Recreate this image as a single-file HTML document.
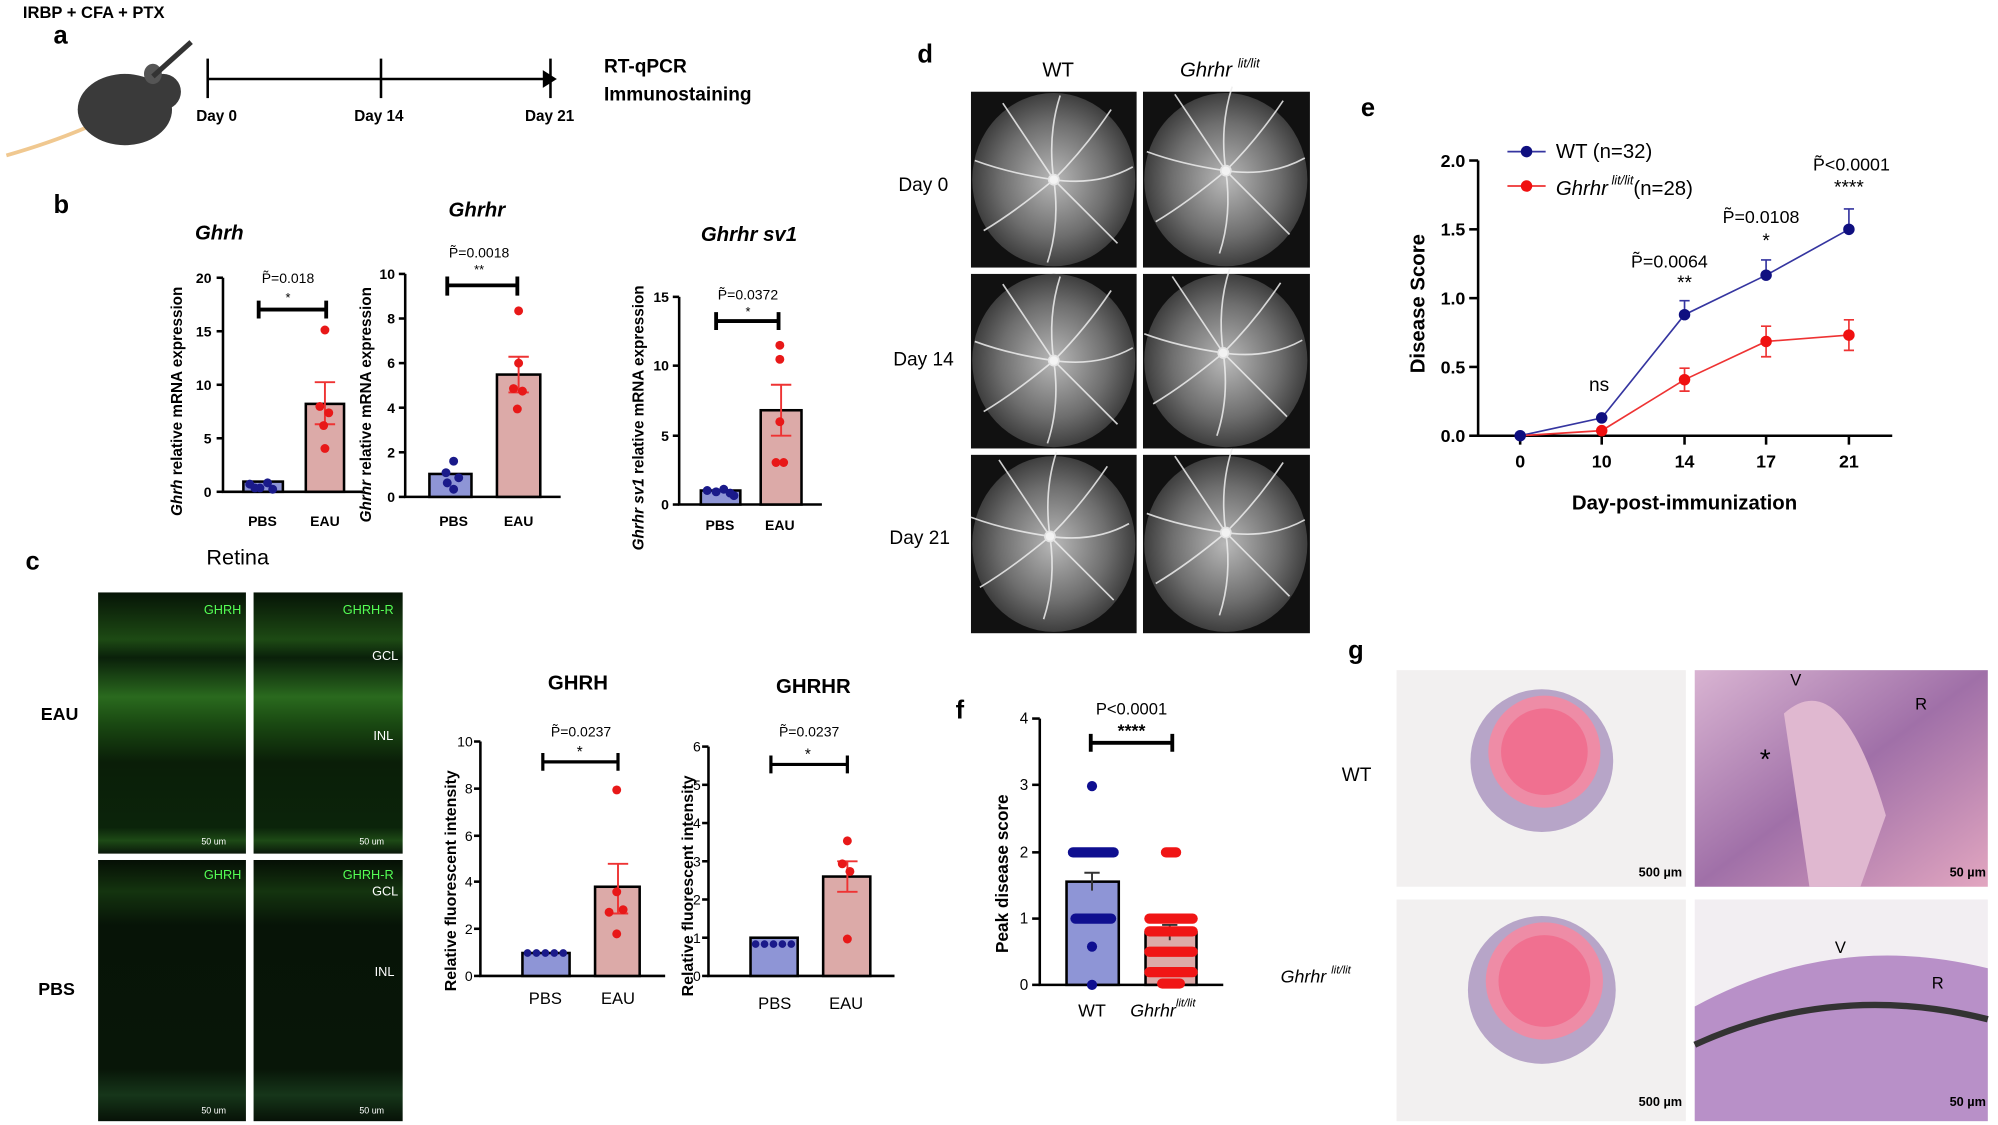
<!DOCTYPE html>
<html><head><meta charset="utf-8"><style>
html,body{margin:0;padding:0;background:#fff;}
svg{display:block;}
text{font-family:"Liberation Sans",sans-serif;}
.b{font-weight:bold;}
</style></head><body>
<svg width="1998" height="1125" viewBox="0 0 1568 883" preserveAspectRatio="none" xmlns="http://www.w3.org/2000/svg">
<defs>
<radialGradient id="fund" cx="50%" cy="50%" r="55%"><stop offset="0" stop-color="#b8b8b8"/><stop offset="0.6" stop-color="#6e6e6e"/><stop offset="1" stop-color="#303030"/></radialGradient>
<g id="ves" stroke="#eee" stroke-width="1.3" fill="none" opacity="0.85">
<path d="M0 0 Q-20 -30 -40 -60"/><path d="M0 0 Q25 -25 45 -55"/><path d="M0 0 Q35 5 62 -10"/><path d="M0 0 Q30 30 50 50"/><path d="M0 0 Q5 35 -5 65"/><path d="M0 0 Q-30 25 -55 40"/><path d="M0 0 Q-35 -5 -62 -15"/><path d="M0 0 Q-5 -35 5 -66"/>
<circle r="4" fill="#fff"/></g>
<linearGradient id="grn" x1="0" y1="0" x2="0" y2="1">
<stop offset="0" stop-color="#061406"/><stop offset="0.18" stop-color="#1d4a14"/><stop offset="0.25" stop-color="#0a200a"/><stop offset="0.4" stop-color="#2a6a1e"/><stop offset="0.5" stop-color="#1a4a12"/><stop offset="0.65" stop-color="#0a1e08"/><stop offset="0.9" stop-color="#0b240a"/><stop offset="0.95" stop-color="#1d4a16"/><stop offset="1" stop-color="#0a180a"/></linearGradient>
<linearGradient id="grn2" x1="0" y1="0" x2="0" y2="1">
<stop offset="0" stop-color="#050f05"/><stop offset="0.12" stop-color="#14340f"/><stop offset="0.25" stop-color="#071407"/><stop offset="0.8" stop-color="#081608"/><stop offset="0.9" stop-color="#16361a"/><stop offset="1" stop-color="#071207"/></linearGradient>
<linearGradient id="histo" x1="0" y1="0" x2="1" y2="1"><stop offset="0" stop-color="#d9b4d2"/><stop offset="0.5" stop-color="#a070a8"/><stop offset="1" stop-color="#e2a6c0"/></linearGradient>
</defs>

<!-- Panel a -->
<text x="18" y="14" font-size="13" class="b">IRBP + CFA + PTX</text>
<text x="42" y="34" font-size="20" class="b">a</text>
<path d="M5 122 Q40 112 68 100" stroke="#f0c890" stroke-width="3" fill="none"/>
<ellipse cx="98" cy="86" rx="37" ry="28" fill="#3a3a3a"/>
<circle cx="128" cy="72" r="14" fill="#3a3a3a"/>
<ellipse cx="120" cy="58" rx="7" ry="8" fill="#555"/>
<line x1="120" y1="60" x2="150" y2="33" stroke="#333" stroke-width="4"/>
<line x1="163" y1="62" x2="428" y2="62" stroke="#000" stroke-width="2"/>
<path d="M426 55 L437 62 L426 69 Z" fill="#000"/>
<line x1="163" y1="46" x2="163" y2="77" stroke="#000" stroke-width="2"/>
<line x1="299" y1="46" x2="299" y2="77" stroke="#000" stroke-width="2"/>
<line x1="432" y1="46" x2="432" y2="77" stroke="#000" stroke-width="2"/>
<text x="154" y="95" font-size="12" class="b">Day 0</text>
<text x="278" y="95" font-size="12" class="b">Day 14</text>
<text x="412" y="95" font-size="12" class="b">Day 21</text>
<text x="474" y="57" font-size="15" class="b">RT-qPCR</text>
<text x="474" y="79" font-size="15" class="b">Immunostaining</text>

<!-- Panel b -->
<text x="42" y="167" font-size="20" class="b">b</text>
<g font-size="11" class="b">
<text x="153" y="188" font-size="16" font-style="italic">Ghrh</text>
<text transform="translate(143,405) rotate(-90)" font-size="12"><tspan font-style="italic">Ghrh</tspan> relative mRNA expression</text>
<path d="M175 218 V386 H285" stroke="#000" stroke-width="2" fill="none"/>
<g stroke="#000" stroke-width="2"><line x1="170" y1="386" x2="175" y2="386"/><line x1="170" y1="344" x2="175" y2="344"/><line x1="170" y1="302" x2="175" y2="302"/><line x1="170" y1="260" x2="175" y2="260"/><line x1="170" y1="218" x2="175" y2="218"/></g>
<text x="166" y="390" text-anchor="end">0</text><text x="166" y="348" text-anchor="end">5</text><text x="166" y="306" text-anchor="end">10</text><text x="166" y="264" text-anchor="end">15</text><text x="166" y="222" text-anchor="end">20</text>
<rect x="191" y="378" width="31" height="8" fill="#8e95d6" stroke="#000" stroke-width="2"/>
<rect x="240" y="317" width="30" height="69" fill="#dcaaa8" stroke="#000" stroke-width="2"/>
<path d="M255 300 V333 M247 300 H263 M247 333 H263" stroke="#e33" stroke-width="1.5"/>
<g fill="#1a1a8a"><circle cx="196" cy="380" r="3.5"/><circle cx="204" cy="383" r="3.5"/><circle cx="210" cy="379" r="3.5"/><circle cx="214" cy="384" r="3.5"/><circle cx="200" cy="383" r="3.5"/></g>
<g fill="#e81818"><circle cx="255" cy="259" r="3.5"/><circle cx="251" cy="319" r="3.5"/><circle cx="258" cy="324" r="3.5"/><circle cx="254" cy="334" r="3.5"/><circle cx="255" cy="352" r="3.5"/></g>
<path d="M203 236 V250 M203 243 H256 M256 236 V250" stroke="#000" stroke-width="3" fill="none"/>
<text x="226" y="237" text-anchor="middle" font-weight="normal" font-size="10">*</text>
<text x="226" y="222" text-anchor="middle" font-weight="normal" font-size="11">P̃=0.018</text>
<text x="206" y="413" text-anchor="middle">PBS</text><text x="255" y="413" text-anchor="middle">EAU</text>
<text x="352" y="170" font-size="16" font-style="italic">Ghrhr</text>
<text transform="translate(291,410) rotate(-90)" font-size="12"><tspan font-style="italic">Ghrhr</tspan> relative mRNA expression</text>
<path d="M318 215 V390 H440" stroke="#000" stroke-width="2" fill="none"/>
<g stroke="#000" stroke-width="2"><line x1="313" y1="390" x2="318" y2="390"/><line x1="313" y1="355" x2="318" y2="355"/><line x1="313" y1="320" x2="318" y2="320"/><line x1="313" y1="285" x2="318" y2="285"/><line x1="313" y1="250" x2="318" y2="250"/><line x1="313" y1="215" x2="318" y2="215"/></g>
<text x="310" y="394" text-anchor="end">0</text><text x="310" y="359" text-anchor="end">2</text><text x="310" y="324" text-anchor="end">4</text><text x="310" y="289" text-anchor="end">6</text><text x="310" y="254" text-anchor="end">8</text><text x="310" y="219" text-anchor="end">10</text>
<rect x="337" y="372" width="33" height="18" fill="#8e95d6" stroke="#000" stroke-width="2"/>
<rect x="390" y="294" width="34" height="96" fill="#dcaaa8" stroke="#000" stroke-width="2"/>
<path d="M407 280 V308 M399 280 H415 M399 308 H415" stroke="#e33" stroke-width="1.5"/>
<g fill="#1a1a8a"><circle cx="356" cy="362" r="3.5"/><circle cx="350" cy="371" r="3.5"/><circle cx="360" cy="375" r="3.5"/><circle cx="351" cy="379" r="3.5"/><circle cx="356" cy="384" r="3.5"/></g>
<g fill="#e81818"><circle cx="407" cy="244" r="3.5"/><circle cx="407" cy="285" r="3.5"/><circle cx="403" cy="305" r="3.5"/><circle cx="410" cy="307" r="3.5"/><circle cx="406" cy="321" r="3.5"/></g>
<path d="M351 217 V232 M351 224 H406 M406 217 V232" stroke="#000" stroke-width="3" fill="none"/>
<text x="376" y="215" text-anchor="middle" font-weight="normal" font-size="10">**</text>
<text x="376" y="202" text-anchor="middle" font-weight="normal" font-size="11">P̃=0.0018</text>
<text x="356" y="413" text-anchor="middle">PBS</text><text x="407" y="413" text-anchor="middle">EAU</text>
<text x="550" y="189" font-size="16" font-style="italic">Ghrhr sv1</text>
<text transform="translate(505,432) rotate(-90)" font-size="12"><tspan font-style="italic">Ghrhr sv1</tspan> relative mRNA expression</text>
<path d="M533 233 V396 H645" stroke="#000" stroke-width="2" fill="none"/>
<g stroke="#000" stroke-width="2"><line x1="528" y1="396" x2="533" y2="396"/><line x1="528" y1="342" x2="533" y2="342"/><line x1="528" y1="287" x2="533" y2="287"/><line x1="528" y1="233" x2="533" y2="233"/></g>
<text x="525" y="400" text-anchor="end">0</text><text x="525" y="346" text-anchor="end">5</text><text x="525" y="291" text-anchor="end">10</text><text x="525" y="237" text-anchor="end">15</text>
<rect x="550" y="385" width="31" height="11" fill="#8e95d6" stroke="#000" stroke-width="2"/>
<rect x="597" y="322" width="32" height="74" fill="#dcaaa8" stroke="#000" stroke-width="2"/>
<path d="M613 302 V342 M605 302 H621 M605 342 H621" stroke="#e33" stroke-width="1.5"/>
<g fill="#1a1a8a"><circle cx="555" cy="385" r="3.5"/><circle cx="562" cy="386" r="3.5"/><circle cx="568" cy="384" r="3.5"/><circle cx="573" cy="387" r="3.5"/><circle cx="576" cy="389" r="3.5"/></g>
<g fill="#e81818"><circle cx="612" cy="271" r="3.5"/><circle cx="612" cy="282" r="3.5"/><circle cx="612" cy="331" r="3.5"/><circle cx="609" cy="363" r="3.5"/><circle cx="615" cy="363" r="3.5"/></g>
<path d="M562 245 V259 M562 252 H611 M611 245 V259" stroke="#000" stroke-width="3" fill="none"/>
<text x="587" y="248" text-anchor="middle" font-weight="normal" font-size="10">*</text>
<text x="587" y="235" text-anchor="middle" font-weight="normal" font-size="11">P̃=0.0372</text>
<text x="565" y="416" text-anchor="middle">PBS</text><text x="612" y="416" text-anchor="middle">EAU</text>
</g>

<!-- Panel c -->
<text x="20" y="447" font-size="20" class="b">c</text>
<text x="162" y="443" font-size="17">Retina</text>
<rect x="77" y="465" width="116" height="205" fill="url(#grn)"/>
<rect x="199" y="465" width="117" height="205" fill="url(#grn)"/>
<rect x="77" y="675" width="116" height="205" fill="url(#grn2)"/>
<rect x="199" y="675" width="117" height="205" fill="url(#grn2)"/>
<g font-size="10" fill="#5f5">
<text x="160" y="482">GHRH</text><text x="269" y="482">GHRH-R</text>
<text x="160" y="690">GHRH</text><text x="269" y="690">GHRH-R</text></g>
<g font-size="10" fill="#fff"><text x="292" y="518">GCL</text><text x="293" y="581">INL</text><text x="292" y="703">GCL</text><text x="294" y="766">INL</text>
<text x="158" y="663" font-size="7">50 um</text><text x="282" y="663" font-size="7">50 um</text><text x="158" y="874" font-size="7">50 um</text><text x="282" y="874" font-size="7">50 um</text></g>
<text x="32" y="565" font-size="14" class="b">EAU</text>
<text x="30" y="781" font-size="14" class="b">PBS</text>
<g font-size="12" class="b">
<text x="430" y="541" font-size="16">GHRH</text>
<text x="609" y="544" font-size="16">GHRHR</text>
<text transform="translate(358,778) rotate(-90)" font-size="12.5">Relative fluorescent intensity</text>
<path d="M377 582 V766 H522" stroke="#000" stroke-width="2" fill="none"/>
<g stroke="#000" stroke-width="2"><line x1="372" y1="766" x2="377" y2="766"/><line x1="372" y1="729" x2="377" y2="729"/><line x1="372" y1="692" x2="377" y2="692"/><line x1="372" y1="656" x2="377" y2="656"/><line x1="372" y1="619" x2="377" y2="619"/><line x1="372" y1="582" x2="377" y2="582"/></g>
<g font-weight="normal" font-size="11"><text x="371" y="770" text-anchor="end">0</text><text x="371" y="733" text-anchor="end">2</text><text x="371" y="696" text-anchor="end">4</text><text x="371" y="660" text-anchor="end">6</text><text x="371" y="623" text-anchor="end">8</text><text x="371" y="586" text-anchor="end">10</text></g>
<rect x="410" y="748" width="37" height="18" fill="#8e95d6" stroke="#000" stroke-width="2"/>
<rect x="467" y="696" width="35" height="70" fill="#dcaaa8" stroke="#000" stroke-width="2"/>
<path d="M485 678 V717 M477 678 H493 M477 717 H493" stroke="#e33" stroke-width="1.5"/>
<g fill="#1a1a8a"><circle cx="414" cy="748" r="3"/><circle cx="421" cy="748" r="3"/><circle cx="428" cy="748" r="3"/><circle cx="435" cy="748" r="3"/><circle cx="442" cy="748" r="3"/></g>
<g fill="#e81818"><circle cx="484" cy="620" r="3.5"/><circle cx="484" cy="700" r="3.5"/><circle cx="478" cy="716" r="3.5"/><circle cx="489" cy="714" r="3.5"/><circle cx="484" cy="733" r="3.5"/></g>
<path d="M426 591 V605 M426 598 H485 M485 591 V605" stroke="#000" stroke-width="2.5" fill="none"/>
<text x="455" y="594" text-anchor="middle" font-weight="normal">*</text>
<text x="456" y="578" text-anchor="middle" font-weight="normal" font-size="11">P̃=0.0237</text>
<text x="428" y="788" text-anchor="middle" font-weight="normal" font-size="13">PBS</text><text x="485" y="788" text-anchor="middle" font-weight="normal" font-size="13">EAU</text>
<text transform="translate(544,782) rotate(-90)" font-size="12.5">Relative fluorescent intensity</text>
<path d="M556 586 V766 H702" stroke="#000" stroke-width="2" fill="none"/>
<g stroke="#000" stroke-width="2"><line x1="551" y1="766" x2="556" y2="766"/><line x1="551" y1="736" x2="556" y2="736"/><line x1="551" y1="706" x2="556" y2="706"/><line x1="551" y1="676" x2="556" y2="676"/><line x1="551" y1="646" x2="556" y2="646"/><line x1="551" y1="616" x2="556" y2="616"/><line x1="551" y1="586" x2="556" y2="586"/></g>
<g font-weight="normal" font-size="11"><text x="550" y="770" text-anchor="end">0</text><text x="550" y="740" text-anchor="end">1</text><text x="550" y="710" text-anchor="end">2</text><text x="550" y="680" text-anchor="end">3</text><text x="550" y="650" text-anchor="end">4</text><text x="550" y="620" text-anchor="end">5</text><text x="550" y="590" text-anchor="end">6</text></g>
<rect x="589" y="736" width="37" height="30" fill="#8e95d6" stroke="#000" stroke-width="2"/>
<rect x="646" y="688" width="37" height="78" fill="#dcaaa8" stroke="#000" stroke-width="2"/>
<path d="M665 676 V700 M657 676 H673 M657 700 H673" stroke="#e33" stroke-width="1.5"/>
<g fill="#1a1a8a"><circle cx="593" cy="741" r="3"/><circle cx="600" cy="741" r="3"/><circle cx="607" cy="741" r="3"/><circle cx="614" cy="741" r="3"/><circle cx="621" cy="741" r="3"/></g>
<g fill="#e81818"><circle cx="665" cy="660" r="3.5"/><circle cx="661" cy="678" r="3.5"/><circle cx="667" cy="684" r="3.5"/><circle cx="665" cy="737" r="3.5"/></g>
<path d="M605 593 V607 M605 600 H665 M665 593 V607" stroke="#000" stroke-width="2.5" fill="none"/>
<text x="634" y="596" text-anchor="middle" font-weight="normal">*</text>
<text x="635" y="578" text-anchor="middle" font-weight="normal" font-size="11">P̃=0.0237</text>
<text x="608" y="792" text-anchor="middle" font-weight="normal" font-size="13">PBS</text><text x="664" y="792" text-anchor="middle" font-weight="normal" font-size="13">EAU</text>
</g>

<!-- Panel d -->
<text x="720" y="49" font-size="20" class="b">d</text>
<text x="818" y="60" font-size="16">WT</text>
<text x="926" y="60" font-size="16" font-style="italic">Ghrhr <tspan font-size="10" dy="-7">lit/lit</tspan></text>
<g>
<rect x="762" y="72" width="130" height="138" fill="#111"/><rect x="897" y="72" width="131" height="138" fill="#111"/>
<rect x="762" y="215" width="130" height="137" fill="#111"/><rect x="897" y="215" width="131" height="137" fill="#111"/>
<rect x="762" y="357" width="130" height="140" fill="#111"/><rect x="897" y="357" width="131" height="140" fill="#111"/>
<ellipse cx="827" cy="141" rx="64" ry="68" fill="url(#fund)"/><ellipse cx="962" cy="141" rx="64" ry="68" fill="url(#fund)"/>
<ellipse cx="827" cy="283" rx="64" ry="68" fill="url(#fund)"/><ellipse cx="962" cy="283" rx="64" ry="68" fill="url(#fund)"/>
<ellipse cx="827" cy="427" rx="64" ry="69" fill="url(#fund)"/><ellipse cx="962" cy="427" rx="64" ry="69" fill="url(#fund)"/>
<use href="#ves" x="827" y="141"/><use href="#ves" x="962" y="134"/>
<use href="#ves" x="827" y="283"/><use href="#ves" x="960" y="277"/>
<use href="#ves" x="824" y="421"/><use href="#ves" x="962" y="418"/>
</g>
<text x="705" y="150" font-size="15">Day 0</text>
<text x="701" y="287" font-size="15">Day 14</text>
<text x="698" y="427" font-size="15">Day 21</text>

<!-- Panel e -->
<text x="1068" y="91" font-size="20" class="b">e</text>
<g font-size="14" class="b">
<path d="M1160 126 V342 H1485" stroke="#000" stroke-width="2" fill="none"/>
<g stroke="#000" stroke-width="2"><line x1="1153" y1="342" x2="1160" y2="342"/><line x1="1153" y1="288" x2="1160" y2="288"/><line x1="1153" y1="234" x2="1160" y2="234"/><line x1="1153" y1="180" x2="1160" y2="180"/><line x1="1153" y1="126" x2="1160" y2="126"/>
<line x1="1193" y1="342" x2="1193" y2="349"/><line x1="1257" y1="342" x2="1257" y2="349"/><line x1="1322" y1="342" x2="1322" y2="349"/><line x1="1386" y1="342" x2="1386" y2="349"/><line x1="1451" y1="342" x2="1451" y2="349"/></g>
<text x="1150" y="347" text-anchor="end">0.0</text><text x="1150" y="293" text-anchor="end">0.5</text><text x="1150" y="239" text-anchor="end">1.0</text><text x="1150" y="185" text-anchor="end">1.5</text><text x="1150" y="131" text-anchor="end">2.0</text>
<text x="1193" y="367" text-anchor="middle">0</text><text x="1257" y="367" text-anchor="middle">10</text><text x="1322" y="367" text-anchor="middle">14</text><text x="1386" y="367" text-anchor="middle">17</text><text x="1451" y="367" text-anchor="middle">21</text>
<text x="1322" y="400" text-anchor="middle" font-size="16">Day-post-immunization</text>
<text transform="translate(1118,293) rotate(-90)" font-size="16">Disease Score</text>
</g>
<g stroke="#3535a0" stroke-width="1.3" fill="none"><polyline points="1193,342 1257,328 1322,247 1386,216 1451,180"/>
<path d="M1322 247 V236 M1318 236 H1326 M1386 216 V204 M1382 204 H1390 M1451 180 V164 M1447 164 H1455"/></g>
<g stroke="#e33" stroke-width="1.3" fill="none"><polyline points="1193,342 1257,338 1322,298 1386,268 1451,263"/>
<path d="M1322 289 V307 M1318 289 H1326 M1318 307 H1326 M1386 256 V280 M1382 256 H1390 M1382 280 H1390 M1451 251 V275 M1447 251 H1455 M1447 275 H1455"/></g>
<g fill="#0f0f80"><circle cx="1193" cy="342" r="4.5"/><circle cx="1257" cy="328" r="4.5"/><circle cx="1322" cy="247" r="4.5"/><circle cx="1386" cy="216" r="4.5"/><circle cx="1451" cy="180" r="4.5"/></g>
<g fill="#f01010"><circle cx="1257" cy="338" r="4.5"/><circle cx="1322" cy="298" r="4.5"/><circle cx="1386" cy="268" r="4.5"/><circle cx="1451" cy="263" r="4.5"/></g>
<g font-size="14">
<line x1="1183" y1="119" x2="1213" y2="119" stroke="#3535a0" stroke-width="1.3"/><circle cx="1198" cy="119" r="4.5" fill="#0f0f80"/>
<text x="1221" y="124" font-size="16">WT  (n=32)</text>
<line x1="1183" y1="146" x2="1213" y2="146" stroke="#e33" stroke-width="1.3"/><circle cx="1198" cy="146" r="4.5" fill="#f01010"/>
<text x="1221" y="153" font-size="16"><tspan font-style="italic">Ghrhr</tspan><tspan font-style="italic" font-size="10" dy="-8"> lit/lit</tspan><tspan dy="8">(n=28)</tspan></text>
<text x="1247" y="307" font-size="15">ns</text>
<text x="1280" y="210">P̃=0.0064</text><text x="1322" y="227" text-anchor="middle" font-size="15">**</text>
<text x="1382" y="175" text-anchor="middle">P̃=0.0108</text><text x="1386" y="194" text-anchor="middle" font-size="15">*</text>
<text x="1453" y="134" text-anchor="middle">P̃&lt;0.0001</text><text x="1451" y="152" text-anchor="middle" font-size="15">****</text>
</g>

<!-- Panel f -->
<text x="750" y="564" font-size="20" class="b">f</text>
<g font-size="13" class="b">
<path d="M816 564 V773 H960" stroke="#000" stroke-width="2" fill="none"/>
<g stroke="#000" stroke-width="2"><line x1="810" y1="773" x2="816" y2="773"/><line x1="810" y1="721" x2="816" y2="721"/><line x1="810" y1="669" x2="816" y2="669"/><line x1="810" y1="616" x2="816" y2="616"/><line x1="810" y1="564" x2="816" y2="564"/></g>
<g font-weight="normal" font-size="12"><text x="807" y="777" text-anchor="end">0</text><text x="807" y="725" text-anchor="end">1</text><text x="807" y="673" text-anchor="end">2</text><text x="807" y="620" text-anchor="end">3</text><text x="807" y="568" text-anchor="end">4</text></g>
<text transform="translate(791,748) rotate(-90)" font-size="13.5">Peak disease score</text>
<rect x="837" y="692" width="41" height="81" fill="#8e95d6" stroke="#000" stroke-width="2"/>
<rect x="899" y="732" width="40" height="41" fill="#dcaaa8" stroke="#000" stroke-width="2"/>
<path d="M857 685 V699 M851 685 H863 M918 726 V738 M912 726 H924" stroke="#333" stroke-width="1.5"/>
<g fill="#0f0f90">
<circle cx="857" cy="617" r="4"/>
<rect x="838" y="665" width="40" height="8" rx="4"/><rect x="840" y="717" width="36" height="8" rx="4"/>
<circle cx="857" cy="743" r="4"/><circle cx="857" cy="773" r="4"/></g>
<g fill="#f01515">
<rect x="911" y="665" width="16" height="8" rx="4"/>
<rect x="898" y="717" width="42" height="8" rx="4"/><rect x="898" y="727" width="42" height="8" rx="4"/>
<rect x="898" y="743" width="42" height="8" rx="4"/><rect x="898" y="759" width="42" height="8" rx="4"/><rect x="908" y="768" width="22" height="8" rx="4"/></g>
<path d="M856 576 V590 M856 583 H920 M920 576 V590" stroke="#000" stroke-width="3" fill="none"/>
<text x="888" y="561" text-anchor="middle" font-weight="normal" font-size="13">P&lt;0.0001</text>
<text x="888" y="578" text-anchor="middle" font-size="14">****</text>
<text x="857" y="798" text-anchor="middle" font-weight="normal" font-size="14">WT</text>
<text x="887" y="798" font-weight="normal" font-size="14" font-style="italic">Ghrhr<tspan font-size="9" dy="-8">lit/lit</tspan></text>
</g>

<!-- Panel g -->
<text x="1058" y="517" font-size="20" class="b">g</text>
<rect x="1096" y="526" width="227" height="170" fill="#f2f0f0"/>
<rect x="1330" y="526" width="230" height="170" fill="url(#histo)"/>
<rect x="1096" y="706" width="227" height="174" fill="#f2f0f0"/>
<rect x="1330" y="706" width="230" height="174" fill="#f2eef2"/>
<circle cx="1210" cy="597" r="56" fill="#b7a5c8"/><circle cx="1212" cy="590" r="44" fill="#ee8ca6"/><circle cx="1212" cy="590" r="34" fill="#f07090"/>
<circle cx="1210" cy="777" r="58" fill="#b7a5c8"/><circle cx="1212" cy="770" r="46" fill="#ee8ca6"/><circle cx="1212" cy="770" r="36" fill="#f07090"/>
<path d="M1330 790 Q1440 730 1560 760 L1560 880 L1330 880 Z" fill="#b890c8"/>
<path d="M1330 820 Q1440 770 1560 800" stroke="#333" stroke-width="5" fill="none"/>
<path d="M1400 560 Q1445 520 1480 640 L1460 696 L1420 696 Z" fill="#e0b8d0"/>
<g font-size="10" class="b"><text x="1286" y="688">500 µm</text><text x="1530" y="688">50 µm</text><text x="1286" y="868">500 µm</text><text x="1530" y="868">50 µm</text></g>
<g font-size="13"><text x="1405" y="538">V</text><text x="1503" y="557">R</text><text x="1440" y="748">V</text><text x="1516" y="776">R</text><text x="1381" y="603" font-size="22">*</text></g>
<text x="1053" y="613" font-size="15">WT</text>
<text x="1005" y="771" font-size="14" font-style="italic">Ghrhr <tspan font-size="9" dy="-7">lit/lit</tspan></text>
</svg>
</body></html>
